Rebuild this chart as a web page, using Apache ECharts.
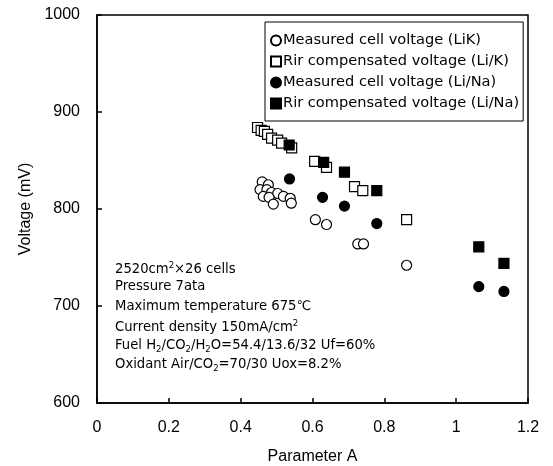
<!DOCTYPE html>
<html>
<head>
<meta charset="utf-8">
<script src="https://cdn.jsdelivr.net/npm/echarts@6/dist/echarts.min.js"></script>
<style>html,body{margin:0;padding:0;background:#fff;}#c{width:553px;height:466px;}</style>
</head>
<body>
<div id="c"></div>
<script>
var seriesNames = ['Measured cell voltage (LiK)', 'Rir compensated voltage (Li/K)', 'Measured cell voltage (Li/Na)', 'Rir compensated voltage (Li/Na)'];
var openCircles = [[0.460,828],[0.477,825],[0.454,820],[0.473,820],[0.486,817],[0.503,816],[0.463,813],[0.479,812],[0.519,813],[0.538,811],[0.491,805],[0.541,806],[0.608,789],[0.639,784],[0.726,764],[0.742,764],[0.862,742]];
var openSquares = [[0.447,884],[0.457,881],[0.466,880],[0.475,877],[0.486,873],[0.503,871],[0.514,868],[0.542,863],[0.606,849],[0.639,843],[0.717,823],[0.740,819],[0.862,789]];
var filledCircles = [[0.536,831],[0.628,812],[0.689,803],[0.779,785],[1.063,720],[1.133,715]];
var filledSquares = [[0.535,866],[0.631,848],[0.689,838],[0.779,819],[1.063,761],[1.133,744]];
var xTicks = {min: 0, max: 1.2, interval: 0.2};
var yTicks = {min: 600, max: 1000, interval: 100};
var noteLines = [
  '2520cm{sup|2}×26 cells',
  'Pressure 7ata',
  'Maximum temperature 675℃',
  'Current density 150mA/cm{sup|2}',
  'Fuel H{sub|2}/CO{sub|2}/H{sub|2}O=54.4/13.6/32 Uf=60%',
  'Oxidant Air/CO{sub|2}=70/30 Uox=8.2%'
];

var FONT = '"Liberation Sans", Arial, sans-serif';
var TFONT = '"DejaVu Sans", sans-serif';
var chart = echarts.init(document.getElementById('c'), null, {renderer: 'canvas'});
var ax = {
  axisLine: {show: true, lineStyle: {color: '#000', width: 1.5}},
  axisTick: {show: true, inside: true, length: 5, lineStyle: {color: '#000', width: 1.5}},
  splitLine: {show: false},
  axisLabel: {color: '#000', fontSize: 16, fontFamily: FONT, margin: 17, formatter: function (v) { return String(v); }},
  nameTextStyle: {color: '#000', fontSize: 16, fontFamily: FONT}
};
function sym(data, name, shape, filled) {
  return {
    type: 'scatter', name: name, data: data, symbol: shape, symbolSize: 10,
    itemStyle: {color: filled ? '#000' : '#fff', borderColor: '#000', borderWidth: 1.2, opacity: 1},
    emphasis: {disabled: true}
  };
}
var graphics = noteLines.map(function (t, i) {
  return {
    type: 'text', left: 115, top: 261 + i * 19.5,
    style: {
      text: t, fill: '#000', font: '13.2px ' + TFONT,
      rich: {
        sup: {fontSize: 8.5, fontFamily: TFONT, verticalAlign: 'top', lineHeight: 17, padding: [0,0,8,0]},
        sub: {fontSize: 8.5, fontFamily: TFONT, verticalAlign: 'bottom', lineHeight: 17, padding: [6,0,0,0]}
      }
    }
  };
});
chart.setOption({
  animation: false,
  backgroundColor: '#fff',
  grid: {left: 97, right: 25, top: 15, bottom: 63, show: true, borderColor: '#000', borderWidth: 1.5,
    containLabel: false, outerBoundsMode: 'none'},
  xAxis: Object.assign({}, ax, {type: 'value', min: xTicks.min, max: xTicks.max, interval: xTicks.interval,
    name: 'Parameter A', nameLocation: 'middle', nameGap: 46}),
  yAxis: Object.assign({}, ax, {type: 'value', min: yTicks.min, max: yTicks.max, interval: yTicks.interval,
    name: 'Voltage (mV)', nameLocation: 'middle', nameGap: 47}),
  legend: {
    orient: 'vertical', left: 265, top: 22, itemWidth: 10, itemHeight: 10, itemGap: 6, padding: [11, 4, 10, 5],
    borderColor: '#000', borderWidth: 1, backgroundColor: '#fff',
    textStyle: {color: '#000', fontSize: 14.6, fontFamily: TFONT, padding: [0,0,0,-3]},
    data: [
      {name: seriesNames[0], icon: 'circle'},
      {name: seriesNames[1], icon: 'rect'},
      {name: seriesNames[2], icon: 'circle'},
      {name: seriesNames[3], icon: 'rect'}
    ]
  },
  graphic: graphics,
  series: [
    sym(openCircles, seriesNames[0], 'circle', false),
    sym(openSquares, seriesNames[1], 'rect', false),
    sym(filledCircles, seriesNames[2], 'circle', true),
    sym(filledSquares, seriesNames[3], 'rect', true)
  ]
});
</script>
</body>
</html>
